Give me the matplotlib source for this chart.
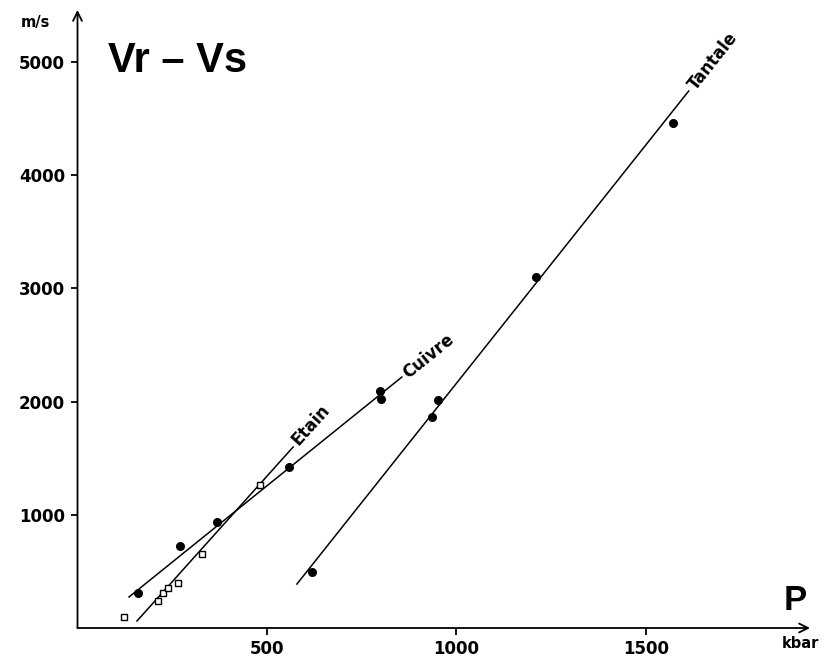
import numpy as np
import matplotlib.pyplot as plt

# Cuivre (filled circles)
cu_p = [160, 270, 368, 558, 799, 801]
cu_v = [309, 724, 936, 1422, 2093, 2022]
cu_line_p = [136, 856]
cu_line_v = [274, 2216]

# Etain (open squares)
sn_p = [123, 212, 226, 239, 265, 329, 482]
sn_v = [97, 238, 309, 353, 397, 653, 1263]
sn_line_p = [157, 569]
sn_line_v = [62, 1598]

# Tantale (filled circles)
ta_p = [619, 935, 951, 1210, 1571]
ta_v = [494, 1863, 2013, 3099, 4459]
ta_line_p = [579, 1613]
ta_line_v = [388, 4742]

xticks = [500, 1000, 1500]
yticks = [1000, 2000, 3000, 4000, 5000]

fig = plt.figure(figsize=(8.24, 6.58), dpi=100)
W, H = 824, 658
ax = fig.add_axes([77.5 / W, 30 / H, 732.5 / W, 618 / H])
ax.set_xlim(0, 1933)
ax.set_ylim(0, 5457)

for s in ['top', 'right', 'left', 'bottom']:
    ax.spines[s].set_visible(False)

# axes with arrows
ax.annotate('', xy=(1, 0), xytext=(0, 0), xycoords='axes fraction',
            arrowprops=dict(arrowstyle='->', lw=1.3, color='black', shrinkA=0, shrinkB=0,
                            mutation_scale=16))
ax.annotate('', xy=(0, 1), xytext=(0, 0), xycoords='axes fraction',
            arrowprops=dict(arrowstyle='->', lw=1.3, color='black', shrinkA=0, shrinkB=0,
                            mutation_scale=16))

ax.set_xticks(xticks)
ax.set_yticks(yticks)
ax.set_xticklabels([str(t) for t in xticks])
ax.set_yticklabels([str(t) for t in yticks])
ax.tick_params(direction='out', length=5, width=1.3, pad=4, labelsize=12)
for lab in ax.get_xticklabels() + ax.get_yticklabels():
    lab.set_fontweight('bold')
    lab.set_family('DejaVu Sans')

lw = 1.1
ax.plot(cu_line_p, cu_line_v, color='black', lw=lw)
ax.plot(sn_line_p, sn_line_v, color='black', lw=lw)
ax.plot(ta_line_p, ta_line_v, color='black', lw=lw)

ax.plot(cu_p, cu_v, 'o', color='black', ms=5.5)
ax.plot(ta_p, ta_v, 'o', color='black', ms=5.5)
ax.plot(sn_p, sn_v, 's', mfc='white', mec='black', mew=1.0, ms=4.5)


def angle(px, pv):
    a = ax.transData.transform((px[0], pv[0]))
    b = ax.transData.transform((px[1], pv[1]))
    return np.degrees(np.arctan2(b[1] - a[1], b[0] - a[0]))


lab_kw = dict(fontsize=12, fontweight='bold', family='DejaVu Sans',
              rotation_mode='anchor', ha='left', va='center')
ax.text(sn_line_p[1] + 5, sn_line_v[1] + 40, 'Etain', rotation=angle(sn_line_p, sn_line_v), **lab_kw)
ax.text(cu_line_p[1] + 8, cu_line_v[1] + 20, 'Cuivre', rotation=angle(cu_line_p, cu_line_v), **lab_kw)
ax.text(ta_line_p[1] + 8, ta_line_v[1] + 30, 'Tantale', rotation=angle(ta_line_p, ta_line_v), **lab_kw)

fig.text(178 / W, 1 - 61 / H, 'Vr – Vs', fontsize=30, fontweight='bold',
         family='Liberation Sans', ha='center', va='center')
fig.text(35 / W, 1 - 23 / H, 'm/s', fontsize=10.5, fontweight='bold',
         family='DejaVu Sans', ha='center', va='center')
fig.text(795 / W, 1 - 600 / H, 'P', fontsize=25, fontweight='bold',
         family='Liberation Sans', ha='center', va='center')
fig.text(800 / W, 1 - 643 / H, 'kbar', fontsize=10.5, fontweight='bold',
         family='DejaVu Sans', ha='center', va='center')

fig.savefig('out.png', dpi=100)
